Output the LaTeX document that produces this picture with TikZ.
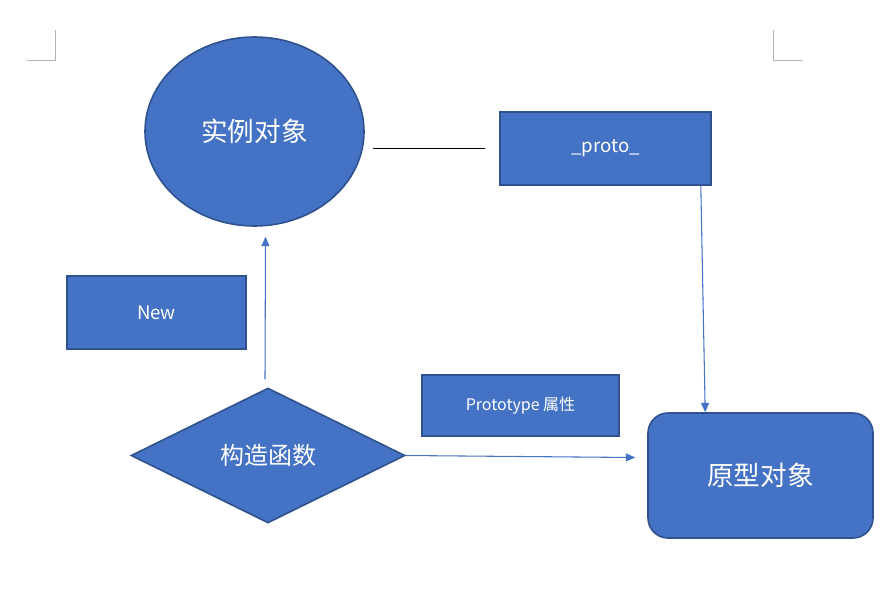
\documentclass[tikz,border=0pt]{standalone}
\usepackage{fontspec}
\setmainfont{Noto Sans CJK SC}
\usetikzlibrary{shapes.geometric,arrows.meta,calc}
\definecolor{fillblue}{HTML}{4472C4}
\definecolor{edgeblue}{HTML}{2F528F}
\def\px{0.75pt}
\tikzset{
  shapebase/.style={fill=fillblue,draw=edgeblue,line width=1.2pt,text=white,inner sep=0pt},
  boxnode/.style={shapebase,rectangle},
  arr/.style={draw=fillblue,line width=0.8pt,-{Triangle[length=7pt,width=6pt]}},
  cornermark/.style={draw=black!30,line width=0.7pt}
}
\begin{document}
\begin{tikzpicture}[x=0.75pt,y=-0.75pt]
\useasboundingbox (0,0) rectangle (881,608);
% corner marks
\draw[cornermark] (55,30) -- (55,60) -- (27,60);
\draw[cornermark] (773,30) -- (773,60) -- (803,60);
% nodes
\node[shapebase,ellipse,minimum width={219*\px},minimum height={189*\px},font=\fontsize{20pt}{24pt}\selectfont] (inst) at (254.5,131.5) {实例对象};
\node[boxnode,minimum width={211*\px},minimum height={73*\px},font=\fontsize{14pt}{17pt}\selectfont] (proto) at (605.5,148.5) {\raisebox{-2pt}{\_proto\_}};
\node[boxnode,minimum width={179*\px},minimum height={73*\px},font=\fontsize{14pt}{17pt}\selectfont] (new) at (156.5,312.5) {New};
\node[shapebase,diamond,minimum width={274*\px},minimum height={135*\px},font=\fontsize{18pt}{22pt}\selectfont] (ctor) at (268,455.5) {构造函数};
\node[boxnode,minimum width={197*\px},minimum height={61*\px},font=\fontsize{12pt}{15pt}\selectfont] (ptype) at (520.5,405.5) {Prototype 属性};
\node[boxnode,rounded corners={20*\px},minimum width={225*\px},minimum height={125*\px},font=\fontsize{20pt}{24pt}\selectfont] (orig) at (760.5,475.5) {原型对象};
% connectors
\draw[black,line width=0.8pt] ($(inst.east |- proto.west)+(8,0)$) -- ($(proto.west)+(-14,0)$);
\draw[arr] ($(ctor.north)+(-3,-8)$) -- ($(inst.south)+(11,10)$);
\draw[arr] (ctor.east) -- ($(ctor.east -| orig.west)+(-12,2)$);
\draw[arr] ($(proto.south east)+(-11,0)$) -- ($(orig.north west)+(58,0)$);
\end{tikzpicture}
\end{document}
